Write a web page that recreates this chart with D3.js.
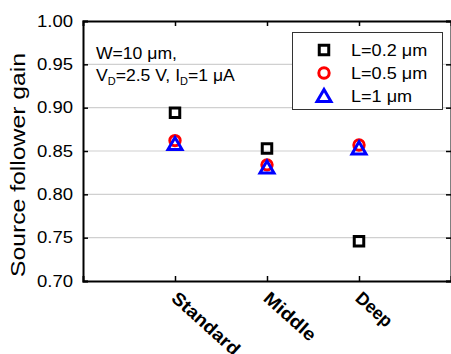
<!DOCTYPE html>
<html lang="en">
<head>
<meta charset="utf-8">
<title>Source follower gain</title>
<script src="https://d3js.org/d3.v7.min.js"></script>
<style>
  body { margin: 0; background: #fff; }
  text { font-family: Arial, "Liberation Sans", sans-serif; fill: #000; }
</style>
</head>
<body>
<div id="chart"></div>
<script>
// data
var categories = ["Standard", "Middle", "Deep"];
var gainL02 = [0.894, 0.853, 0.746];
var gainL05 = [0.862, 0.834, 0.857];
var gainL1  = [0.858, 0.831, 0.853];
var seriesNames = ["L=0.2 \u03bcm", "L=0.5 \u03bcm", "L=1 \u03bcm"];
var yTicks = [0.70, 0.75, 0.80, 0.85, 0.90, 0.95, 1.00];

var width = 451, height = 354;
var margin = {left: 83, right: 0, top: 21, bottom: 73};

var svg = d3.select("#chart").append("svg")
    .attr("width", width)
    .attr("height", height);

// categories sit at 1,2,3 on a 0..4 axis
var x = d3.scaleLinear().domain([0, 4]).range([margin.left, width - margin.right]);
var y = d3.scaleLinear().domain([0.70, 1.00]).range([height - margin.bottom, margin.top]);

// the source picture is a bit wider than tall, so text gets a small horizontal stretch
function stretch(x0, k) { return "translate(" + x0 + ",0) scale(" + k + ",1) translate(" + (-x0) + ",0)"; }

// grid
svg.append("g").selectAll("line")
  .data(yTicks.filter(function(d) { return d > 0.71 && d < 0.99; }))
  .enter().append("line")
    .attr("x1", x(0)).attr("x2", x(4))
    .attr("y1", function(d) { return y(d); })
    .attr("y2", function(d) { return y(d); })
    .attr("stroke", "#d0d0d0").attr("stroke-width", 1.2);

// axes (ticks pointing inward)
var fmt = d3.format(".2f");
var left = svg.append("g").attr("transform", "translate(" + x(0) + ",0)")
  .call(d3.axisLeft(y).tickValues(yTicks).tickFormat(fmt).tickSize(-5).tickPadding(10));
left.selectAll("text").style("font-size", "16px")
  .attr("textLength", 36).attr("lengthAdjust", "spacingAndGlyphs");

var right = svg.append("g").attr("transform", "translate(" + x(4) + ",0)")
  .call(d3.axisRight(y).tickValues(yTicks).tickFormat("").tickSize(-5));

var bottom = svg.append("g").attr("transform", "translate(0," + y(0.70) + ")")
  .call(d3.axisBottom(x).tickValues([1, 2, 3]).tickFormat("").tickSize(-5));

var top = svg.append("g").attr("transform", "translate(0," + y(1.00) + ")")
  .call(d3.axisTop(x).tickValues([1, 2, 3]).tickFormat("").tickSize(-5));

svg.selectAll(".domain").attr("stroke", "#000").attr("stroke-width", 2);
svg.selectAll(".tick line").attr("stroke", "#000").attr("stroke-width", 1.5);

// category labels, rotated
svg.append("g").selectAll("text")
  .data(categories)
  .enter().append("text")
    .attr("transform", function(d, i) { return "translate(" + (x(i + 1) + 5) + "," + (y(0.70) + 8) + ") rotate(42)"; })
    .attr("dy", "0.8em")
    .style("font-size", "18px")
    .style("font-weight", "bold")
    .attr("textLength", function(d) { return d.length * 10.6; })
    .attr("lengthAdjust", "spacingAndGlyphs")
    .text(function(d) { return d; });

// y axis title
svg.append("text")
  .attr("transform", "translate(25,165) rotate(-90)")
  .attr("text-anchor", "middle")
  .style("font-size", "20px")
  .attr("textLength", 224).attr("lengthAdjust", "spacingAndGlyphs")
  .text("Source follower gain");

// markers
var sym = {
  square: d3.symbol().type(d3.symbolSquare).size(90),
  circle: d3.symbol().type(d3.symbolCircle).size(85),
  triangle: d3.symbol().type(d3.symbolTriangle).size(85)
};
var series = [
  {name: seriesNames[0], values: gainL02, shape: "square", color: "#000"},
  {name: seriesNames[1], values: gainL05, shape: "circle", color: "#ff0000"},
  {name: seriesNames[2], values: gainL1,  shape: "triangle", color: "#0000ff"}
];

series.forEach(function(s) {
  svg.append("g").selectAll("path")
    .data(s.values)
    .enter().append("path")
      .attr("d", sym[s.shape])
      .attr("transform", function(d, i) {
        var dy = s.shape === "triangle" ? 1.5 : 0;
        return "translate(" + x(i + 1) + "," + (y(d) + dy) + ")";
      })
      .attr("fill", "none")
      .attr("stroke", s.color)
      .attr("stroke-width", 3);
});

// legend
var legend = svg.append("g");
legend.append("rect")
  .attr("x", 292.5).attr("y", 32.5).attr("width", 150).attr("height", 77)
  .attr("fill", "#fff").attr("stroke", "#333").attr("stroke-width", 1);
series.forEach(function(s, i) {
  var ly = 50 + i * 23;
  legend.append("path")
    .attr("d", sym[s.shape])
    .attr("transform", "translate(324," + (ly + (s.shape === "triangle" ? 1.5 : 0)) + ")")
    .attr("fill", "none").attr("stroke", s.color).attr("stroke-width", 3);
  legend.append("text")
    .attr("x", 351).attr("y", ly).attr("dy", "0.36em")
    .attr("transform", stretch(351, 1.13))
    .style("font-size", "16px")
    .text(s.name);
});

// annotation
var note = svg.append("g").style("font-size", "16px").attr("transform", stretch(96, 1.1));
note.append("text").attr("x", 96).attr("y", 59).text("W=10 \u03bcm,");
var t2 = note.append("text").attr("x", 96).attr("y", 81);
t2.append("tspan").text("V");
t2.append("tspan").attr("dy", 4).style("font-size", "10px").text("D");
t2.append("tspan").attr("dy", -4).text("=2.5 V, I");
t2.append("tspan").attr("dy", 4).style("font-size", "10px").text("D");
t2.append("tspan").attr("dy", -4).text("=1 \u03bcA");
</script>
</body>
</html>
